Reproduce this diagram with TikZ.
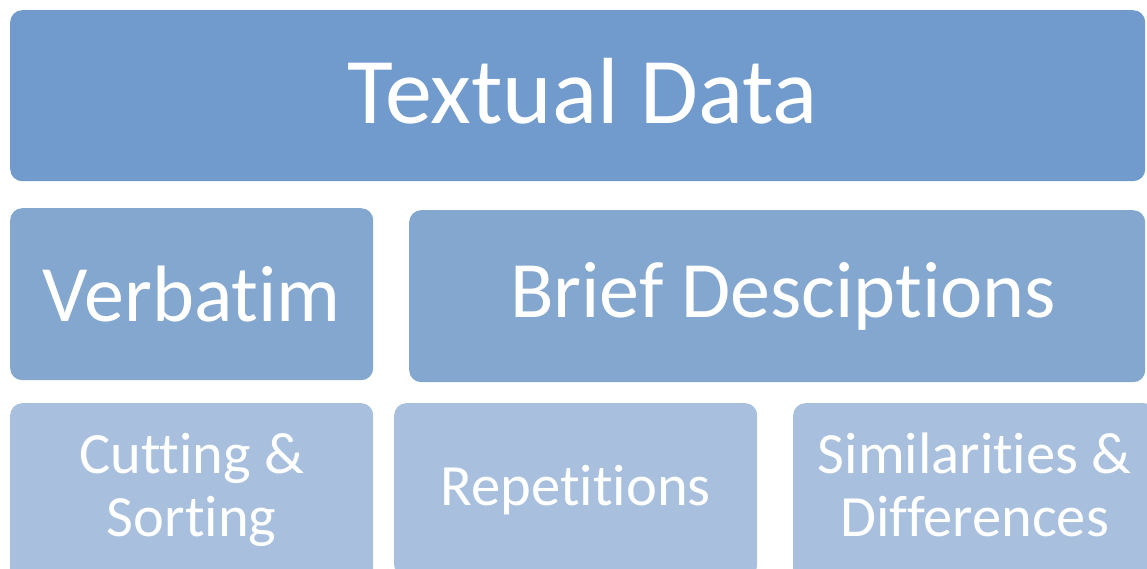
\documentclass[tikz,border=0pt]{standalone}
\usepackage{fontspec}
\setmainfont[Ligatures=NoCommon]{Carlito}
\usepackage{tikz}
\usetikzlibrary{positioning}

\definecolor{topblue}{HTML}{719BCC}
\definecolor{midblue}{HTML}{84A7CF}
\definecolor{lowblue}{HTML}{A8C0DE}

\tikzset{
  block/.style={draw=none,rounded corners=12pt,anchor=north west,text=white,align=center,inner sep=0pt},
}

\begin{document}
\begin{tikzpicture}[x=1pt,y=-1pt]
 \useasboundingbox (0,0) rectangle (1147,569);
 \clip (0,0) rectangle (1147,569);
 % top row
 \node[block,fill=topblue,minimum width=1135pt,minimum height=171pt] (textual) at (10,10) {};
 \node[text=white,font=\fontsize{94}{106}\selectfont] at ([xshift=5pt,yshift=4pt]textual.center) {Textual Data};
 % middle row
 \node[block,fill=midblue,minimum width=363pt,minimum height=172pt,font=\fontsize{80}{90}\selectfont] (verbatim) at (10,208) {Verbatim};
 \node[block,fill=midblue,minimum width=736pt,minimum height=172pt] (brief) at (409,210) {};
 \node[text=white,font=\fontsize{80}{90}\selectfont] at ([xshift=6pt]brief.center) {Brief Desciptions};
 % bottom row (runs off the page)
 \node[block,fill=lowblue,minimum width=363pt,minimum height=182pt,font=\fontsize{58.5}{63}\selectfont] (cutting) at (10,403) {Cutting \&\\Sorting\strut};
 \node[block,fill=lowblue,minimum width=363pt,minimum height=174pt,font=\fontsize{58.5}{63}\selectfont] (repetitions) at (394,403) {Repetitions};
 \node[block,fill=lowblue,minimum width=363pt,minimum height=182pt,font=\fontsize{58.5}{63}\selectfont] (similarities) at (793,403) {Similarities \&\\Differences\strut};
\end{tikzpicture}
\end{document}
